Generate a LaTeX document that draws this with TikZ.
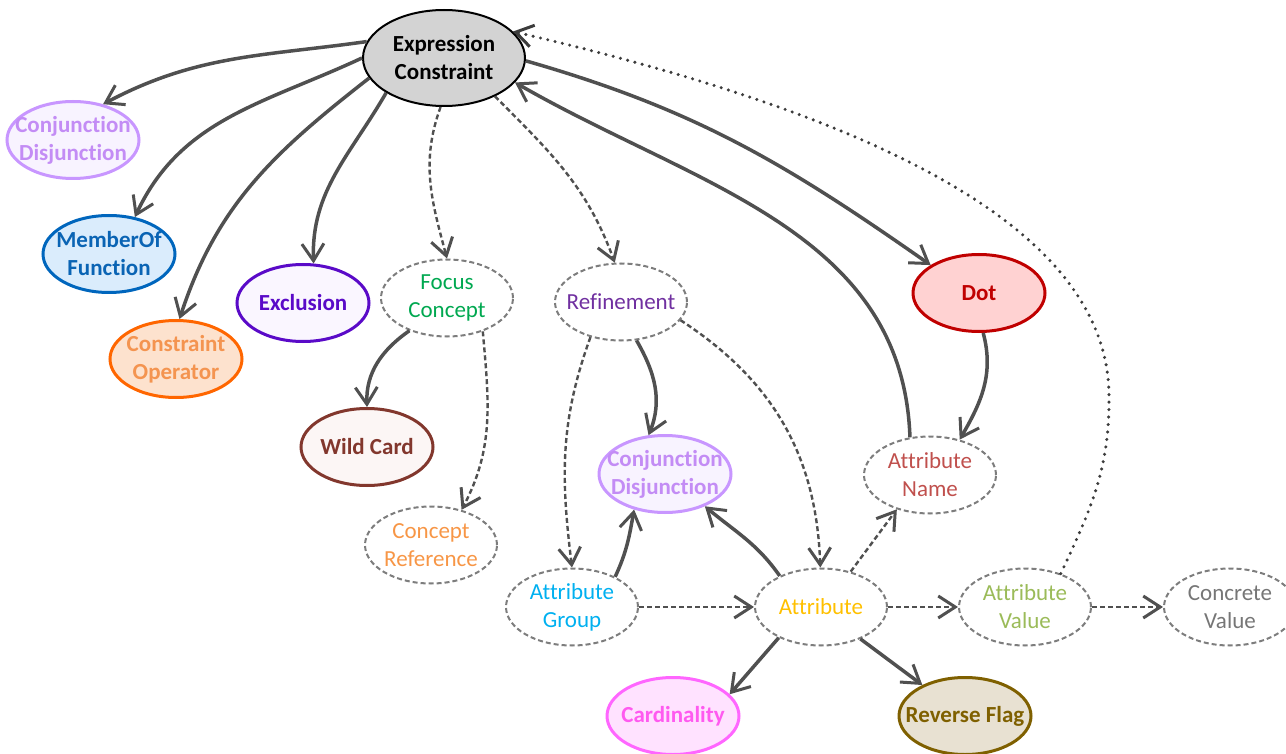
\documentclass[tikz,border=0pt]{standalone}
\usepackage{fontspec}
\setmainfont{Carlito}[Ligatures=NoCommon]
\usetikzlibrary{arrows.meta,shapes.geometric}
\definecolor{lgray}{RGB}{80,80,80}
\definecolor{dotc}{RGB}{60,60,60}
\definecolor{dgray}{RGB}{125,125,125}
\definecolor{ecfill}{RGB}{211,211,211}
\definecolor{cjb}{RGB}{200,150,255}\definecolor{cjf}{RGB}{248,243,255}\definecolor{cjt}{RGB}{195,140,245}
\definecolor{mob}{RGB}{0,102,189}\definecolor{mof}{RGB}{218,236,252}\definecolor{mot}{RGB}{10,100,180}
\definecolor{cob}{RGB}{255,102,0}\definecolor{cof}{RGB}{253,226,206}\definecolor{cot}{RGB}{244,148,80}
\definecolor{exb}{RGB}{90,10,200}\definecolor{exf}{RGB}{250,246,255}
\definecolor{wcb}{RGB}{130,55,45}\definecolor{wcf}{RGB}{252,246,245}
\definecolor{dtb}{RGB}{192,0,0}\definecolor{dtf}{RGB}{255,210,210}
\definecolor{cab}{RGB}{255,102,255}\definecolor{caf}{RGB}{255,226,255}\definecolor{cat}{RGB}{255,90,240}
\definecolor{rfb}{RGB}{127,96,0}\definecolor{rff}{RGB}{232,225,210}
\definecolor{fct}{RGB}{0,168,80}
\definecolor{ret}{RGB}{112,48,160}
\definecolor{ant}{RGB}{192,80,77}
\definecolor{crt}{RGB}{247,150,70}
\definecolor{agt}{RGB}{0,176,240}
\definecolor{att}{RGB}{255,192,0}
\definecolor{avt}{RGB}{155,187,89}
\definecolor{cvt}{RGB}{118,118,118}
\begin{document}
\begin{tikzpicture}[x=1pt,y=1pt,
  base/.style={ellipse, minimum width=132pt, minimum height=77pt, inner sep=-20pt, align=center, font=\fontsize{23}{28}\selectfont},
  solidnode/.style args={#1/#2/#3}{base, draw=#1, fill=#2, text=#3, line width=3pt, font=\fontsize{23}{28}\selectfont\bfseries},
  dnode/.style={base, draw=dgray, dash pattern=on 5pt off 3pt, line width=2pt, text=#1},
  tip/.style={-{Straight Barb[length=17pt,width=22pt,line width=3pt]}},
  sol/.style={draw=lgray, line width=3.5pt, tip},
  dsh/.style={draw=lgray, line width=2.4pt, dash pattern=on 5pt off 3pt, tip},
  dotline/.style={draw=dotc, line width=3.4pt, line cap=round, dash pattern=on 0pt off 7.5pt, -{Straight Barb[length=17pt,width=22pt,line width=3pt]}}]
\useasboundingbox (0,0) rectangle (1286,-754);
\clip (0,0) rectangle (1286,-754);
% nodes
\node[solidnode=black/ecfill/black, minimum width=162pt, minimum height=96pt, line width=2pt] (ec) at (444,-58) {Expression\\Constraint};
\node[solidnode=cjb/cjf/cjt] (cd1) at (73,-140) {Conjunct\kern0pt ion\\Disjunct\kern0pt ion};
\node[solidnode=mob/mof/mot] (mo) at (109,-254) {MemberOf\\Funct\kern0pt ion};
\node[solidnode=cob/cof/cot] (co) at (176,-359) {Constraint\\Operator};
\node[solidnode=exb/exf/exb] (excl) at (303,-303) {Exclusion};
\node[dnode=fct] (fc) at (447,-298) {Focus\\Concept};
\node[dnode=ret] (ref) at (621,-302) {Refinement};
\node[solidnode=dtb/dtf/dtb] (dot) at (979,-293) {Dot};
\node[solidnode=wcb/wcf/wcb] (wc) at (367,-447) {Wild Card};
\node[solidnode=cjb/cjf/cjt] (cd2) at (665,-474) {Conjunct\kern0pt ion\\Disjunct\kern0pt ion};
\node[dnode=ant] (an) at (930,-475) {Attribute\\Name};
\node[dnode=crt] (cr) at (431,-545) {Concept\\Reference};
\node[dnode=agt] (ag) at (572,-607) {Attribute\\Group};
\node[dnode=att] (at) at (821,-607) {Attribute};
\node[dnode=avt] (av) at (1025,-607) {Attribute\\Value};
\node[dnode=cvt] (cv) at (1230,-607) {Concrete\\Value};
\node[solidnode=cab/caf/cat] (card) at (673,-716) {Cardinality};
\node[solidnode=rfb/rff/rfb] (rf) at (965,-716) {Reverse Flag};
\coordinate (dbend) at (1109,-400);
% solid connectors
\draw[sol] (ec.168) to[out=188, in=28] (cd1.50);
\draw[sol] (ec.180) to[out=205, in=65] (mo.55);
\draw[sol] (ec.195) to[out=218, in=72] (co.85);
\draw[sol] (ec.211) to[out=240, in=92] (excl.75);
\draw[sol] (fc.221) to[out=215, in=92] (wc.90);
\draw[sol] (ref.292) to[out=300, in=68] (cd2.113);
\draw[sol] (ag.35) to[out=65, in=260] (cd2.229);
\draw[sol] (at.143) to[out=125, in=320] (cd2.321);
\draw[sol] (an.118) to[out=92, in=-30] (ec.-19);
\draw[sol] (ec.-2) to[out=-16, in=145] (dot.150);
\draw[sol] (dot.-84) to[out=-75, in=60] (an.50);
\draw[sol] (at.216) -- (card.21);
\draw[sol] (at.321) -- (rf.144);
% dashed connectors
\draw[dsh] (ec.266) to[out=250, in=105] (fc.90);
\draw[dsh] (ec.-37) to[out=-45, in=110] (ref.99);
\draw[dsh] (fc.-43) to[out=-85, in=62] (cr.49);
\draw[dsh] (ref.229) to[out=250, in=97] (ag.90);
\draw[dsh] (ref.-17) to[out=-33, in=92] (at.91);
\draw[dsh] (ag) -- (at);
\draw[dsh] (at.50) -- (an.226);
\draw[dsh] (at) -- (av);
\draw[dsh] (av) -- (cv);
% dotted connector
\draw[dotline] (av.43) to[out=65, in=-90] (dbend) .. controls (1112,-220) and (850,-110) .. (ec.21);
\end{tikzpicture}
\end{document}
